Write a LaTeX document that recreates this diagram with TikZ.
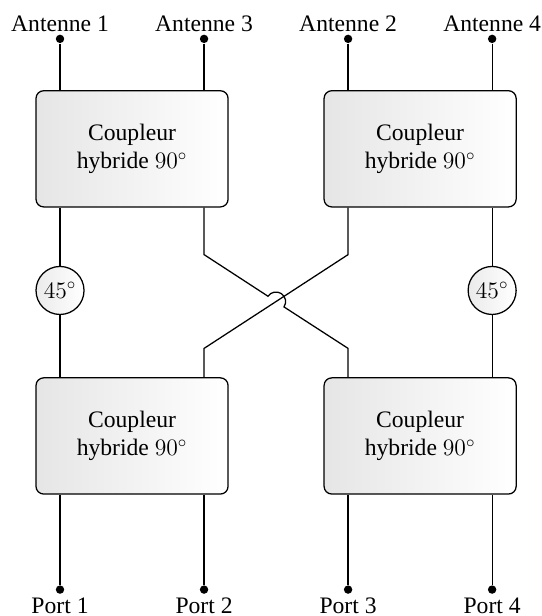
\documentclass[tikz,border=0pt]{standalone}
\usepackage{fix-cm}
\usepackage[no-math]{fontspec}
\setmainfont{Liberation Serif}
\usetikzlibrary{calc}

\begin{document}
\begin{tikzpicture}[
  node distance=6cm,
  line width=0.75pt,
  every node/.style={font=\fontsize{14}{17}\selectfont},
  every label/.style={font=\fontsize{14}{17}\selectfont, inner sep=0pt}
]
	\tikzstyle{coupler} = [rectangle, rounded corners=1.6mm, minimum width=4cm, minimum height=2.42cm, align=center, draw=black, left color=black!10, right color=white]
	\tikzstyle{phase} = [circle, minimum size=1cm, inner sep=0pt, draw=black, left color=black!8, right color=white]
	\tikzstyle{terminal} = [circle, fill=black, minimum size=1.75mm, inner sep=0pt]

	\useasboundingbox (0,0) rectangle (11.27,12.83);

	\node (coupler1) [coupler] at (2.75,9.73) {Coupleur\\hybride $90^\circ$};
	\node (coupler2) [coupler, right of=coupler1] {Coupleur\\hybride $90^\circ$};
	\node (coupler3) [coupler, below of=coupler1, node distance=5.98cm] {Coupleur\\hybride $90^\circ$};
	\node (coupler4) [coupler, right of=coupler3] {Coupleur\\hybride $90^\circ$};

	\node (antenna1) [terminal, label={[name=antenna1label, label distance=0.4mm]above:Antenne 1}, above of=coupler1, node distance=2.29cm, xshift=-1.5cm] {};
	\node (antenna3) [terminal, label={[name=antenna3label, label distance=0.4mm]above:Antenne 3}, above of=coupler1, node distance=2.29cm, xshift=1.5cm] {};
	\node (antenna2) [terminal, label={[name=antenna2label, label distance=0.4mm]above:Antenne 2}, above of=coupler2, node distance=2.29cm, xshift=-1.5cm] {};
	\node (antenna4) [terminal, label={[name=antenna4label, label distance=0.4mm]above:Antenne 4}, above of=coupler2, node distance=2.29cm, xshift=1.5cm] {};

	\node (port1) [terminal, label={[name=port1label, label distance=0.5mm]below:Port 1}, below of=coupler3, node distance=3.2cm, xshift=-1.5cm] {};
	\node (port2) [terminal, label={[name=port2label, label distance=0.5mm]below:Port 2}, below of=coupler3, node distance=3.2cm, xshift=1.5cm] {};
	\node (port3) [terminal, label={[name=port3label, label distance=0.5mm]below:Port 3}, below of=coupler4, node distance=3.2cm, xshift=-1.5cm] {};
	\node (port4) [terminal, label={[name=port4label, label distance=0.5mm]below:Port 4}, below of=coupler4, node distance=3.2cm, xshift=1.5cm] {};

	\node (phase1) [phase, below of=coupler1, node distance=2.95cm, xshift=-1.5cm] {$45^\circ$};
	\node (phase2) [phase, below of=coupler2, node distance=2.95cm, xshift=1.5cm] {$45^\circ$};

	\draw (antenna1) -- (antenna1 |- coupler1.north);
	\draw (antenna3) -- (antenna3 |- coupler1.north);
	\draw (antenna2) -- (antenna2 |- coupler2.north);
	\draw (antenna4) -- (antenna4 |- coupler2.north);

	\draw (port1) -- (port1 |- coupler3.south);
	\draw (port2) -- (port2 |- coupler3.south);
	\draw (port3) -- (port3 |- coupler4.south);
	\draw (port4) -- (port4 |- coupler4.south);

	\draw (phase1) -- (phase1 |- coupler1.south);
	\draw (phase1) -- (phase1 |- coupler3.north);
	\draw (phase2) -- (phase2 |- coupler2.south);
	\draw (phase2) -- (phase2 |- coupler4.north);

	\coordinate (bend1) at ($(antenna3 |- coupler1.south)+(0,-0.98)$);
	\coordinate (bend2) at ($(antenna2 |- coupler2.south)+(0,-0.98)$);
	\coordinate (bend3) at ($(port2 |- coupler3.north)+(0,0.6)$);
	\coordinate (bend4) at ($(port3 |- coupler4.north)+(0,0.6)$);

	\draw (antenna2 |- coupler2.south) -- (bend2) -- (bend3) -- (port2 |- coupler3.north);
	\draw (antenna3 |- coupler1.south) -- (bend1) -- ($(bend1)!0.444!(bend4)$) arc[start angle=146.3, end angle=-33.7, radius=0.2cm] -- (bend4) -- (port3 |- coupler4.north);
\end{tikzpicture}
\end{document}
